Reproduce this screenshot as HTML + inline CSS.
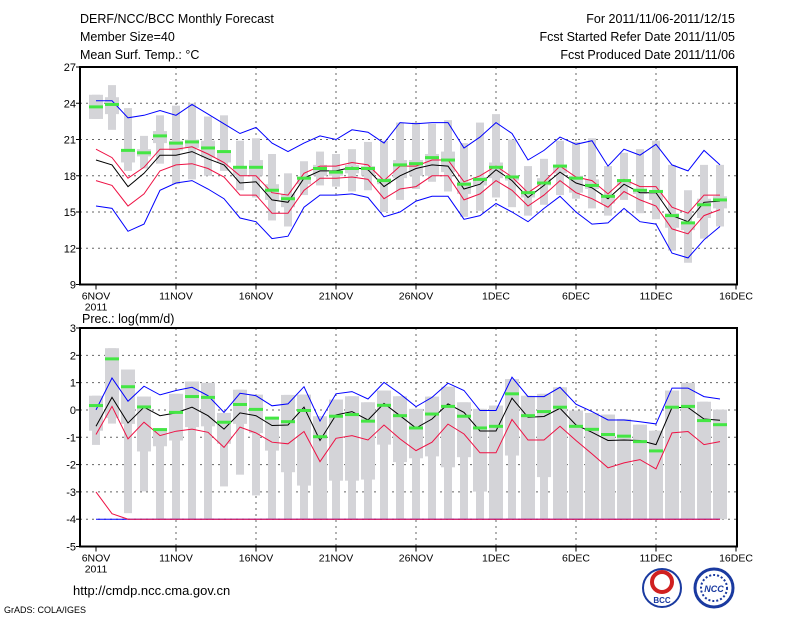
<!DOCTYPE html>
<html><head><meta charset="utf-8"><style>
html,body{margin:0;padding:0;background:#fff;}
svg text{font-family:"Liberation Sans","DejaVu Sans",sans-serif;}
</style></head><body>
<svg id="c" width="800" height="618" viewBox="0 0 800 618" xmlns="http://www.w3.org/2000/svg">
<rect width="800" height="618" fill="#fff"/>
<g font-size="12.5" fill="#000">
<text x="80" y="23">DERF/NCC/BCC Monthly Forecast</text>
<text x="80" y="41">Member Size=40</text>
<text x="80" y="59">Mean Surf. Temp.: °C</text>
<text x="735" y="23" text-anchor="end">For 2011/11/06-2011/12/15</text>
<text x="735" y="41" text-anchor="end">Fcst Started Refer Date 2011/11/05</text>
<text x="735" y="59" text-anchor="end">Fcst Produced Date 2011/11/06</text>
<text x="82" y="323">Prec.: log(mm/d)</text>
<text x="73" y="595" font-size="13">http://cmdp.ncc.cma.gov.cn</text>
<text x="4" y="613" font-size="9">GrADS: COLA/IGES</text>
</g>
<g>
<circle cx="662" cy="588" r="19" fill="#fff" stroke="#1a3aa0" stroke-width="2"/>
<circle cx="662" cy="582" r="10" fill="none" stroke="#d02020" stroke-width="4"/>
<text x="662" y="603" font-size="8" text-anchor="middle" font-weight="bold" fill="#1a3aa0">BCC</text>
</g>
<g>
<circle cx="714" cy="588" r="19" fill="#fff" stroke="#1a3aa0" stroke-width="3"/>
<circle cx="714" cy="588" r="13" fill="none" stroke="#1a3aa0" stroke-width="2" stroke-dasharray="2 2"/>
<text x="714" y="592" font-size="9" text-anchor="middle" font-weight="bold" font-style="italic" fill="#1a3aa0">NCC</text>
</g>
<g id="top"></g>
<g id="bot"></g>
</svg>
<script>
// ---- shared ----
const xLabels = ["6NOV","11NOV","16NOV","21NOV","26NOV","1DEC","6DEC","11DEC","16DEC"];
// ---- temperature panel data ----
const tMax = [24.7,25.5,23.6,21.3,23.0,23.8,24.0,22.9,23.0,20.9,21.1,19.8,18.2,19.2,20.0,19.8,20.2,20.8,20.9,22.4,22.4,22.3,22.6,20.7,22.4,23.1,21.0,18.8,19.4,20.9,20.8,21.1,18.8,19.9,20.2,20.9,18.9,16.8,18.9,18.9];
const tQ3 = [24.7,24.5,20.2,20.2,21.7,20.9,21.0,20.9,20.1,18.7,19.3,17.3,16.5,17.9,18.9,18.4,18.9,18.8,17.8,19.3,19.3,19.8,20.0,17.5,17.9,19.1,18.0,16.7,17.8,18.9,18.0,17.7,16.4,17.7,16.9,16.8,14.9,14.2,16.1,16.3];
const tQ1 = [22.7,23.1,19.1,19.6,20.7,20.1,20.3,19.5,19.1,18.0,18.0,16.0,15.4,17.3,18.0,18.0,18.2,18.0,17.3,17.8,18.0,18.0,18.3,16.5,17.2,17.8,17.6,16.2,17.2,18.2,16.6,16.9,15.7,17.2,16.5,16.0,13.7,13.5,14.5,15.3];
const tMin = [22.7,21.8,18.4,18.6,19.0,17.3,17.7,18.0,18.4,16.8,16.2,14.3,13.8,16.4,17.2,17.1,16.7,16.8,15.0,16.0,16.9,17.5,16.7,14.6,15.1,16.2,15.4,14.7,15.6,16.4,16.1,15.3,14.7,16.0,14.9,14.4,11.8,10.8,12.8,13.8];
const tObs = [23.7,23.9,20.1,19.9,21.3,20.7,20.8,20.3,20.0,18.7,18.7,16.8,16.1,17.8,18.6,18.3,18.6,18.6,17.6,18.9,19.0,19.5,19.3,17.3,17.7,18.7,17.9,16.6,17.4,18.8,17.8,17.2,16.3,17.6,16.8,16.7,14.7,14.1,15.6,16.0];
const tBlueHi = [24.2,24.2,22.8,23.0,23.4,23.0,23.9,23.1,22.3,21.5,22.0,20.7,20.0,20.7,21.3,21.0,21.8,21.6,20.7,22.4,22.3,22.4,22.4,20.3,21.2,22.4,21.5,19.3,20.1,21.2,20.6,20.9,18.8,20.2,19.7,20.6,18.9,18.4,20.1,18.9];
const tRedHi = [20.2,19.5,17.8,18.7,20.2,20.2,20.4,19.8,19.1,18.0,18.0,16.6,16.4,18.2,18.8,18.8,19.1,18.9,17.6,18.8,18.8,19.3,19.3,17.5,18.0,18.8,17.9,16.6,17.5,18.8,17.9,17.6,16.5,17.7,17.1,17.1,15.4,14.9,16.4,16.4];
const tMean = [19.3,18.9,17.1,18.2,19.7,19.7,20.0,19.4,18.9,17.4,17.5,16.0,15.8,17.8,18.4,18.4,18.7,18.5,17.1,18.0,18.6,18.9,18.8,16.9,17.3,18.5,17.6,16.2,17.2,18.3,17.4,17.0,16.1,17.3,16.6,16.6,14.7,14.2,15.8,15.9];
const tRedLo = [17.6,17.2,15.5,16.5,18.4,18.9,19.0,18.6,17.9,16.4,16.4,14.9,14.9,16.8,17.8,17.8,17.9,17.7,16.1,16.9,17.1,18.0,18.0,16.0,16.5,17.6,16.8,15.5,16.4,17.6,16.6,16.1,15.4,16.7,16.0,15.5,13.6,13.2,14.7,15.2];
const tBlueLo = [15.5,15.3,13.4,14.0,16.8,17.4,17.6,16.9,16.1,14.5,14.2,12.8,13.0,15.4,16.4,16.4,16.5,16.2,14.6,15.0,15.9,16.3,16.3,14.4,14.7,15.7,15.0,14.2,15.3,16.3,15.0,14.0,14.1,15.3,14.2,14.0,11.6,11.2,12.7,13.8];
const tTicks = [9,12,15,18,21,24,27];
// ---- precipitation panel data ----
const pMax = [0.52,2.26,1.48,0.49,-0.67,0.59,1.04,0.99,-0.11,0.74,0.56,-0.27,0.55,0.56,-0.23,0.38,0.5,0.28,0.71,0.5,0.04,0.49,0.85,0.28,0.04,0.16,1.13,0.52,0.59,0.83,-0.02,-0.11,-0.17,-0.33,-0.54,-0.76,0.71,0.99,0.3,0.01];
const pQ1 = [-0.76,-0.3,-0.51,-1.52,-1.33,-1.12,-0.63,-0.6,-1.24,-0.51,-0.85,-1.49,-2.28,-2.77,-4,-2.59,-2.59,-2.55,-1.27,-1.91,-1.77,-1.7,-2.1,-1.73,-2.99,-4,-1.67,-4,-2.46,-4,-4,-4,-4,-4,-4,-4,-4,-4,-4,-4];
const pMin = [-1.28,-0.5,-3.78,-2.98,-4,-4,-4,-4,-2.8,-2.37,-3.13,-4,-4,-4,-4,-4,-4,-4,-4,-4,-4,-4,-4,-4,-4,-4,-4,-4,-4,-4,-4,-4,-4,-4,-4,-4,-4,-4,-4,-4];
const pObs = [0.16,1.87,0.85,0.11,-0.72,-0.09,0.49,0.46,-0.45,0.2,0.02,-0.3,-0.43,-0.02,-0.98,-0.23,-0.17,-0.41,0.17,-0.21,-0.66,-0.15,0.13,-0.23,-0.66,-0.6,0.59,-0.21,-0.06,0.1,-0.6,-0.71,-0.9,-0.96,-1.16,-1.5,0.1,0.13,-0.39,-0.54];
const pBlueHi = [0.0,1.17,0.32,0.87,0.55,0.71,0.83,0.52,-0.09,0.61,0.52,0.15,0.22,0.85,-0.41,0.59,0.67,0.4,1.01,0.59,0.12,0.46,0.98,0.71,-0.02,-0.02,1.2,0.49,0.49,0.83,0.21,-0.06,-0.37,-0.37,-0.43,-0.51,0.8,0.8,0.49,0.4];
const pMean = [-0.6,0.46,-0.48,0.1,-0.21,-0.11,0.1,-0.21,-0.7,-0.11,-0.21,-0.57,-0.55,0.1,-1.12,-0.18,-0.06,-0.37,0.24,-0.21,-0.66,-0.33,0.22,-0.09,-0.77,-0.77,0.43,-0.27,-0.24,0.06,-0.55,-0.82,-1.12,-1.1,-1.12,-1.27,0.09,0.09,-0.33,-0.38];
const pRedHi = [-0.9,0.13,-1.06,-0.45,-0.94,-0.78,-0.7,-0.82,-1.37,-0.63,-0.84,-1.18,-1.24,-0.79,-1.89,-1.04,-0.94,-1.1,-0.55,-1.06,-1.49,-1.18,-0.52,-0.88,-1.57,-1.57,-0.35,-1.1,-1.1,-0.6,-1.12,-1.61,-2.12,-1.94,-1.82,-2.16,-0.84,-0.79,-1.27,-1.16];
const pRedLo = [-3.0,-3.8,-4,-4,-4,-4,-4,-4,-4,-4,-4,-4,-4,-4,-4,-4,-4,-4,-4,-4,-4,-4,-4,-4,-4,-4,-4,-4,-4,-4,-4,-4,-4,-4,-4,-4,-4,-4,-4,-4];
const pBlueLo = [-4,-4,-4,-4,-4,-4,-4,-4,-4,-4,-4,-4,-4,-4,-4,-4,-4,-4,-4,-4,-4,-4,-4,-4,-4,-4,-4,-4,-4,-4,-4,-4,-4,-4,-4,-4,-4,-4,-4,-4];
const pTicks = [-5,-4,-3,-2,-1,0,1,2,3];

const NS="http://www.w3.org/2000/svg";
function mk(tag,attrs,parent){const e=document.createElementNS(NS,tag);for(const k in attrs)e.setAttribute(k,attrs[k]);parent.appendChild(e);return e;}
const X0=80,X1=737;
function xs(i){return 96+16*i;}

function panel(g,top,bot,vmin,vmax,ticks,d,lines,narrowFirst){
  const ys=v=>bot-(v-vmin)/(vmax-vmin)*(bot-top);
  // grid
  ticks.forEach(t=>{
    if(t===vmin||t===vmax)return;
    const l=mk('line',{x1:X0,x2:X1,y1:ys(t),y2:ys(t),stroke:'#666','stroke-dasharray':'2 4','stroke-width':1},g);
    
    
  });
  ticks.forEach(t=>{
    const tx=mk('text',{x:X0-4,y:ys(t)+4,'font-size':11,'text-anchor':'end'},g);
    tx.textContent=t;
    
    
    mk('line',{x1:X0-4,x2:X0,y1:ys(t),y2:ys(t),stroke:'#000'},g);
  });
  xLabels.forEach((lab,k)=>{
    const x=xs(k*5);
    if(k>0&&k<8){const l=mk('line',{x1:x,x2:x,y1:top,y2:bot,stroke:'#666','stroke-dasharray':'2 4'},g);
      
      }
    mk('line',{x1:x,x2:x,y1:bot,y2:bot+5,stroke:'#000'},g);
    const tx=mk('text',{x:x,y:bot+15,'font-size':10.5,'text-anchor':'middle'},g);
    tx.textContent=lab;
    
    
  });
  const yr=mk('text',{x:96,y:bot+26,'font-size':10.5,'text-anchor':'middle'},g);
  yr.textContent='2011';
  
  
  // boxes
  for(let i=0;i<d.max.length;i++){
    const x=xs(i);
    const w=mk('rect',{x:x-4,y:ys(d.max[i]),width:8,height:Math.max(0,ys(d.min[i])-ys(d.max[i])),fill:'#d4d4d8'},g);
    
    
    const b=mk('rect',{x:x-7,y:ys(d.q3[i]),width:14,height:Math.max(0,ys(d.q1[i])-ys(d.q3[i])),fill:'#d4d4d8'},g);
    
    
  }
  lines.forEach(([arr,col,name])=>{
    const p=mk('polyline',{points:arr.map((v,i)=>xs(i)+','+ys(v).toFixed(1)).join(' '),fill:'none',stroke:col,'stroke-width':1},g);
    
    
  });
  d.obs.forEach((v,i)=>{
    const r=mk('rect',{x:xs(i)-7,y:ys(v)-1.5,width:14,height:3,fill:'#44e644'},g);
    
    
  });
  const f=mk('rect',{x:X0,y:top,width:X1-X0,height:bot-top,fill:'none',stroke:'#000','stroke-width':2},g);
  
  
}
panel(document.getElementById('top'),67,284.5,9,27,tTicks,
  {max:tMax,q3:tQ3,q1:tQ1,min:tMin,obs:tObs},
  [[tBlueHi,'#0000ff','upper-blue-line'],[tBlueLo,'#0000ff','lower-blue-line'],[tRedHi,'#ee1144','upper-red-line'],[tRedLo,'#ee1144','lower-red-line'],[tMean,'#000','ensemble-mean-line']]);
panel(document.getElementById('bot'),328,546.5,-5,3,pTicks,
  {max:pMax,q3:pMax,q1:pQ1,min:pMin,obs:pObs},
  [[pBlueHi,'#0000ff','upper-blue-line'],[pBlueLo,'#0000ff','lower-blue-line'],[pRedHi,'#ee1144','upper-red-line'],[pRedLo,'#ee1144','lower-red-line'],[pMean,'#000','ensemble-mean-line']]);
document.getElementById('top');
document.getElementById('top');
document.getElementById('bot');
document.getElementById('bot');
</script>
</body></html>
